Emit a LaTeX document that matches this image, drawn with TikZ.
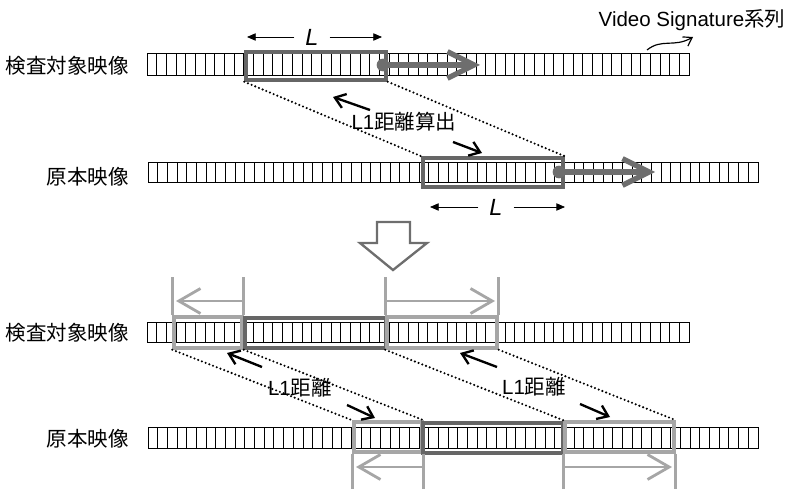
\documentclass[tikz,border=0pt]{standalone}
\usepackage{fontspec}
\setmainfont{Liberation Sans}
\newfontfamily\jp{Noto Sans CJK JP}
\usetikzlibrary{arrows.meta, fit}
\definecolor{winborder}{HTML}{666666}
\definecolor{spanborder}{HTML}{A6A6A6}
\definecolor{slideline}{HTML}{6E6E6E}
\tikzset{
  cell/.style={draw=black, line width=0.6pt},
  win/.style={draw=winborder, line width=3pt, inner sep=0pt},
  spanwin/.style={draw=spanborder, line width=3pt, inner sep=0pt},
  slide/.style={draw=slideline, line width=4.5pt, -{Straight Barb[length=8mm, width=8mm]}},
  slidedot/.style={circle, fill=slideline, inner sep=0pt, minimum size=3.8mm},
  spanbar/.style={draw=spanborder, line width=2.4pt},
  spanarrow/.style={spanbar, -{Straight Barb[length=6.5mm, width=7.5mm]}},
  lenarrow/.style={-{Triangle[length=2.6mm, width=2.2mm]}, line width=0.7pt},
  hint/.style={-{Straight Barb[length=3mm, width=4.4mm]}, line width=2pt},
  match/.style={line width=2pt, line cap=round, dash pattern=on 0pt off 3.4pt},
  rowlabel/.style={anchor=east, font=\fontsize{17.5}{20}\selectfont\jp},
  txt/.style={font=\fontsize{17.5}{20}\selectfont},
  lenlabel/.style={font=\fontsize{20}{22}\selectfont\itshape}
}
\begin{document}
\begin{tikzpicture}[x=0.03cm, y=-0.03cm]
\useasboundingbox (0,0) rectangle (790,489);

% signature rows
\foreach \i in {0,...,55} {
  \draw[cell] ({147+\i*9.68},53) rectangle ++(9.68,22);
  \draw[cell] ({147+\i*9.68},322) rectangle ++(9.68,20);
}
\foreach \i in {0,...,62} {
  \draw[cell] ({148+\i*9.68},162) rectangle ++(9.68,20);
  \draw[cell] ({148+\i*9.68},427) rectangle ++(9.68,21);
}

\node[rowlabel] (query1) at (133,66) {検査対象映像};
\node[rowlabel] (orig1) at (133,177) {原本映像};
\node[rowlabel] (query2) at (133,333) {検査対象映像};
\node[rowlabel] (orig2) at (133,439) {原本映像};

\node[txt] (sig) at (692,20) {Video Signature{\jp 系列}};
\coordinate (sigtail) at (647,50);
\coordinate (sighead) at (693,37);
\draw[-{Straight Barb[length=2.4mm, width=3.2mm]}, line width=1pt] (sigtail) .. controls (662,38) and (674,48) .. (sighead);

% upper part: sliding window
\node[win, fit={(246,52) (386,80)}] (win1) {};
\node[win, fit={(423,158) (563,187)}] (win2) {};

\node[lenlabel] (len1) at (312,37) {L};
\coordinate (len1l) at (247,37);
\coordinate (len1r) at (382,37);
\draw[lenarrow] ([xshift=-6pt]len1.west) -- (len1l);
\draw[lenarrow] ([xshift=6pt]len1.east) -- (len1r);

\node[lenlabel] (len2) at (496,207) {L};
\coordinate (len2l) at (430,207);
\coordinate (len2r) at (565,207);
\draw[lenarrow] ([xshift=-6pt]len2.west) -- (len2l);
\draw[lenarrow] ([xshift=6pt]len2.east) -- (len2r);

\node[slidedot] (dot1) at (383,65) {};
\coordinate (go1) at (480,65);
\draw[slide] (dot1.center) -- (go1);
\node[slidedot] (dot2) at (559,172) {};
\coordinate (go2) at (655,172);
\draw[slide] (dot2.center) -- (go2);

\draw[match] (win1.south west) -- (win2.north west);
\draw[match] (win1.south east) -- (win2.north east);

\node[txt] (dist) at (404,122) {L1{\jp 距離算出}};
\draw[hint] (370,110) -- (333,97);
\draw[hint] (453,142) -- (482,153);

% down arrow
\node (down) at (394,246) {};
\draw[draw=slideline, line width=2pt, line join=miter] (377,222) -- (410,222) -- (410,243) -- (427,243) -- (393,270) -- (360,243) -- (377,243) -- cycle;

% lower part: extended matching
\node[spanwin, fit={(174,317) (242,348)}] (back1) {};
\node[win, fit={(245,318) (386,348)}] (core1) {};
\node[spanwin, fit={(387,317) (497,348)}] (fwd1) {};

\node[spanwin, fit={(354,422) (422,452)}] (back2) {};
\node[win, fit={(423,423) (563,453)}] (core2) {};
\node[spanwin, fit={(565,422) (674,452)}] (fwd2) {};

\draw[spanbar] (back1.north west) -- ++(0,-38);
\draw[spanbar] (back1.north east) -- ++(0,-38);
\draw[spanarrow] (242,301) -- (176,301);
\draw[spanbar] (fwd1.north west) -- ++(0,-38);
\draw[spanbar] (fwd1.north east) -- ++(0,-38);
\draw[spanarrow] (387,301) -- (495,301);

\draw[spanbar] (back2.south west) -- ++(0,37);
\draw[spanbar] (back2.south east) -- ++(0,37);
\draw[spanarrow] (422,467) -- (356,467);
\draw[spanbar] (fwd2.south west) -- ++(0,37);
\draw[spanbar] (fwd2.south east) -- ++(0,37);
\draw[spanarrow] (565,467) -- (672,467);

\draw[match] (back1.south west) -- (back2.north west);
\draw[match] (back1.south east) -- (back2.north east);
\draw[match] (fwd1.south west) -- (fwd2.north west);
\draw[match] (fwd1.south east) -- (fwd2.north east);

\node[txt] (dist1) at (300,388) {L1{\jp 距離}};
\draw[hint] (262,367) -- (227,353);
\draw[hint] (347,405) -- (375,418);
\node[txt] (dist2) at (534,387) {L1{\jp 距離}};
\draw[hint] (497,367) -- (460,353);
\draw[hint] (580,404) -- (610,417);

\end{tikzpicture}
\end{document}
